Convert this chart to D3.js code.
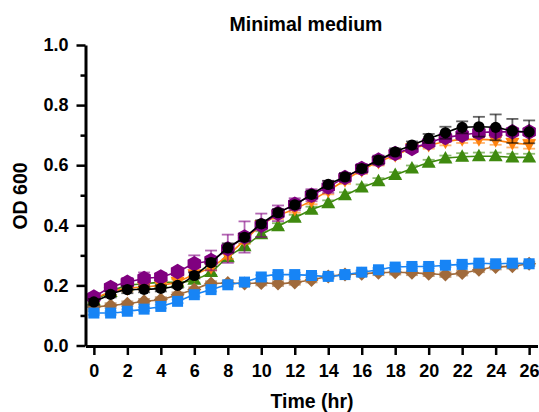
<!DOCTYPE html>
<html lang="en">
<head>
<meta charset="UTF-8">
<title>Minimal medium</title>
<script src="https://d3js.org/d3.v7.min.js"></script>
<style>
  body { margin: 0; background: #fff; }
  text { font-family: "Liberation Sans", Arial, sans-serif; font-weight: bold; }
</style>
</head>
<body>
<div id="chart"></div>
<script>
// time points (hr)
const hours = d3.range(0, 27);

// mean OD600 per strain
const blackMean = [0.145,0.170,0.186,0.187,0.190,0.200,0.233,0.276,0.325,0.360,0.405,0.442,0.468,0.503,0.536,0.561,0.589,0.617,0.644,0.667,0.689,0.708,0.726,0.728,0.726,0.714,0.711];
const purpleMean = [0.161,0.193,0.210,0.223,0.228,0.246,0.272,0.283,0.322,0.361,0.400,0.440,0.470,0.500,0.528,0.559,0.589,0.617,0.639,0.656,0.674,0.692,0.700,0.708,0.711,0.711,0.711];
const orangeMean = [0.155,0.178,0.190,0.195,0.200,0.212,0.237,0.260,0.300,0.350,0.400,0.433,0.454,0.482,0.515,0.550,0.583,0.611,0.633,0.656,0.667,0.678,0.686,0.686,0.683,0.674,0.670];
const greenMean = [0.150,0.178,0.200,0.205,0.210,0.210,0.219,0.245,0.294,0.330,0.370,0.397,0.425,0.452,0.473,0.500,0.526,0.547,0.567,0.589,0.608,0.622,0.628,0.630,0.630,0.626,0.626];
const brownMean = [0.128,0.133,0.139,0.147,0.153,0.169,0.186,0.206,0.208,0.206,0.208,0.206,0.210,0.218,0.230,0.236,0.239,0.242,0.244,0.242,0.239,0.236,0.241,0.252,0.261,0.264,0.272];
const blueMean = [0.108,0.108,0.114,0.121,0.130,0.147,0.169,0.186,0.202,0.211,0.228,0.236,0.236,0.233,0.230,0.236,0.244,0.252,0.261,0.263,0.263,0.267,0.270,0.274,0.272,0.274,0.272];

// error (SD)
const blackErr = [0.010,0.010,0.012,0.010,0.010,0.008,0.010,0.012,0.015,0.012,0.012,0.012,0.012,0.012,0.012,0.012,0.012,0.012,0.012,0.012,0.015,0.020,0.020,0.033,0.043,0.040,0.038];
const purpleErr = [0.012,0.012,0.015,0.020,0.012,0.012,0.028,0.033,0.047,0.052,0.039,0.026,0.020,0.020,0.020,0.015,0.015,0.015,0.012,0.012,0.012,0.015,0.015,0.015,0.018,0.012,0.012];
const orangeErr = [0.010,0.010,0.010,0.010,0.010,0.010,0.010,0.010,0.012,0.012,0.012,0.012,0.012,0.012,0.012,0.012,0.012,0.012,0.012,0.012,0.012,0.012,0.012,0.012,0.015,0.015,0.015];
const greenErr = [0.010,0.010,0.010,0.010,0.010,0.010,0.010,0.010,0.012,0.010,0.010,0.010,0.010,0.010,0.010,0.010,0.010,0.010,0.010,0.010,0.010,0.010,0.012,0.012,0.012,0.012,0.012];
const brownErr = [0.008,0.008,0.008,0.008,0.008,0.008,0.008,0.008,0.008,0.008,0.008,0.008,0.008,0.008,0.008,0.008,0.008,0.008,0.008,0.008,0.008,0.008,0.008,0.008,0.008,0.008,0.008];
const blueErr = [0.006,0.006,0.006,0.006,0.006,0.006,0.006,0.006,0.006,0.006,0.006,0.006,0.006,0.006,0.006,0.006,0.006,0.006,0.006,0.006,0.006,0.006,0.006,0.006,0.006,0.006,0.006];

const xTicks = d3.range(0, 27, 2);
const yTicks = [0, 0.2, 0.4, 0.6, 0.8, 1.0];
const yMinorTicks = [0.1, 0.3, 0.5, 0.7, 0.9];

const width = 539, height = 412;

const svg = d3.select("#chart").append("svg")
    .attr("width", width)
    .attr("height", height);

const x = d3.scaleLinear().domain([-0.5, 26.5]).range([85.5, 537.5]);
const y = d3.scaleLinear().domain([0, 1]).range([345.5, 45]);

// marker shapes
function hexagon(r) {
    const pts = d3.range(6).map(i => {
        const a = Math.PI / 6 + i * Math.PI / 3;
        return [r * Math.cos(a), r * Math.sin(a)];
    });
    return "M" + pts.map(p => p.join(",")).join("L") + "Z";
}
const shapes = {
    circle: "M5.6,0A5.6,5.6 0 1,1 -5.6,0A5.6,5.6 0 1,1 5.6,0Z",
    hexagon: hexagon(7.8),
    square: "M-5.5,-5.5L5.5,-5.5L5.5,5.5L-5.5,5.5Z",
    triUp: "M0,-7.5L7,5L-7,5Z",
    triDown: "M0,7.5L7,-5L-7,-5Z",
    diamond: "M0,-7L7,0L0,7L-7,0Z"
};

// drawn back to front
const series = [
    { name: "green", color: "#3f8a0f", shape: "triUp", mean: greenMean, err: greenErr },
    { name: "brown", color: "#a06a3b", shape: "diamond", mean: brownMean, err: brownErr },
    { name: "blue", color: "#1784f5", shape: "square", mean: blueMean, err: blueErr },
    { name: "orange", color: "#ff830f", shape: "triDown", mean: orangeMean, err: orangeErr },
    { name: "purple", color: "#800080", shape: "hexagon", mean: purpleMean, err: purpleErr },
    { name: "black", color: "#000000", shape: "circle", mean: blackMean, err: blackErr }
];

const line = d3.line()
    .x(d => x(d.t))
    .y(d => y(d.v))
    .curve(d3.curveMonotoneX);

series.forEach(s => {
    const pts = hours.map((t, i) => ({ t: t, v: s.mean[i], e: s.err[i] }));
    const g = svg.append("g").attr("class", "series-" + s.name);

    // error bars
    const eb = g.selectAll(".err").data(pts).join("g").attr("class", "err")
        .attr("stroke", s.color).attr("stroke-opacity", 0.6).attr("stroke-width", 1.8);
    eb.append("line")
        .attr("x1", d => x(d.t)).attr("x2", d => x(d.t))
        .attr("y1", d => y(d.v - d.e)).attr("y2", d => y(d.v + d.e));
    eb.append("line")
        .attr("x1", d => x(d.t) - 6).attr("x2", d => x(d.t) + 6)
        .attr("y1", d => y(d.v + d.e)).attr("y2", d => y(d.v + d.e));
    eb.append("line")
        .attr("x1", d => x(d.t) - 6).attr("x2", d => x(d.t) + 6)
        .attr("y1", d => y(d.v - d.e)).attr("y2", d => y(d.v - d.e));

    g.append("path")
        .datum(pts)
        .attr("fill", "none")
        .attr("stroke", s.color)
        .attr("stroke-width", 1.6)
        .attr("d", line);

    g.selectAll(".mark").data(pts).join("path")
        .attr("class", "mark")
        .attr("d", shapes[s.shape])
        .attr("fill", s.color)
        .attr("transform", d => `translate(${x(d.t)},${y(d.v)})`);
});

// axes
const yAxis = svg.append("g")
    .attr("transform", "translate(85.5,0)")
    .call(d3.axisLeft(y).tickValues(yTicks).tickFormat(d3.format(".1f"))
        .tickSize(9).tickSizeOuter(0).tickPadding(8));
svg.append("g")
    .attr("transform", "translate(85.5,0)")
    .call(d3.axisLeft(y).tickValues(yMinorTicks).tickFormat("")
        .tickSize(5).tickSizeOuter(0))
    .call(g => g.select(".domain").remove());

const xAxis = svg.append("g")
    .attr("transform", "translate(0,346)")
    .call(d3.axisBottom(x).tickValues(xTicks).tickFormat(d3.format("d"))
        .tickSize(9).tickSizeOuter(0).tickPadding(9));

svg.selectAll(".domain").attr("stroke-width", 3);
svg.selectAll(".tick line").attr("stroke-width", 2.5);
[yAxis, xAxis].forEach(a => a.selectAll("text")
    .attr("font-size", 18)
    .attr("font-family", "Liberation Sans, Arial, sans-serif")
    .attr("font-weight", "bold")
    .attr("fill", "#000"));

// titles
svg.append("text")
    .attr("x", 306).attr("y", 31)
    .attr("text-anchor", "middle")
    .attr("font-size", 19.5)
    .text("Minimal medium");

svg.append("text")
    .attr("x", 312).attr("y", 408)
    .attr("text-anchor", "middle")
    .attr("font-size", 19.5)
    .text("Time (hr)");

svg.append("text")
    .attr("transform", "translate(27,196) rotate(-90)")
    .attr("text-anchor", "middle")
    .attr("font-size", 19.5)
    .text("OD 600");
</script>
</body>
</html>
